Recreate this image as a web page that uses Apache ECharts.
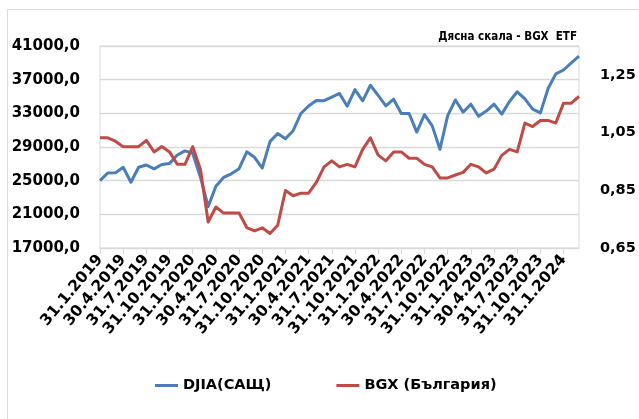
<!DOCTYPE html>
<html>
<head>
<meta charset="utf-8">
<script src="https://cdn.jsdelivr.net/npm/echarts@6/dist/echarts.min.js"></script>
<style>html,body{margin:0;padding:0;background:#fff}#c{width:639px;height:419px}</style>
</head>
<body>
<div id="c"></div>
<script>
const categories = [
 '31.1.2019','28.2.2019','31.3.2019','30.4.2019','31.5.2019','30.6.2019','31.7.2019','31.8.2019','30.9.2019','31.10.2019','30.11.2019','31.12.2019',
 '31.1.2020','29.2.2020','31.3.2020','30.4.2020','31.5.2020','30.6.2020','31.7.2020','31.8.2020','30.9.2020','31.10.2020','30.11.2020','31.12.2020',
 '31.1.2021','28.2.2021','31.3.2021','30.4.2021','31.5.2021','30.6.2021','31.7.2021','31.8.2021','30.9.2021','31.10.2021','30.11.2021','31.12.2021',
 '31.1.2022','28.2.2022','31.3.2022','30.4.2022','31.5.2022','30.6.2022','31.7.2022','31.8.2022','30.9.2022','31.10.2022','30.11.2022','31.12.2022',
 '31.1.2023','28.2.2023','31.3.2023','30.4.2023','31.5.2023','30.6.2023','31.7.2023','31.8.2023','30.9.2023','31.10.2023','30.11.2023','31.12.2023',
 '31.1.2024','29.2.2024','31.3.2024'
];
const djia = [
 24999.7,25916.0,25928.7,26592.9,24815.0,26600.0,26864.3,26403.3,26916.8,27046.2,28051.4,28538.4,
 28256.0,25409.4,21917.2,24345.7,25383.1,25812.9,26428.3,28430.1,27781.7,26501.6,29638.6,30606.5,
 29982.6,30932.4,32981.6,33874.9,34529.5,34502.5,34935.5,35360.7,33843.9,35819.6,34483.7,36338.3,
 35131.9,33892.6,34678.4,32977.2,32990.1,30775.4,32845.1,31510.4,28725.5,32733.0,34589.8,33147.3,
 34086.0,32656.7,33274.2,34098.2,32908.3,34407.6,35559.5,34721.9,33507.5,33052.9,35950.9,37689.5,
 38150.3,38996.4,39807.4
];
const bgx = [
 1.032,1.032,1.020,1.001,1.001,1.001,1.023,0.983,1.002,0.983,0.940,0.940,
 1.001,0.923,0.740,0.792,0.771,0.771,0.771,0.721,0.709,0.720,0.700,0.729,
 0.849,0.831,0.840,0.840,0.877,0.931,0.952,0.931,0.940,0.931,0.992,1.032,
 0.972,0.952,0.983,0.983,0.961,0.961,0.940,0.931,0.893,0.893,0.903,0.912,
 0.940,0.931,0.910,0.923,0.971,0.992,0.983,1.083,1.071,1.092,1.092,1.083,
 1.152,1.152,1.175
];
const seriesNames = ['DJIA(САЩ)', 'BGX (България)'];
const noteText = 'Дясна скала - BGX  ETF';

const FONT = "'DejaVu Sans', sans-serif";
const chart = echarts.init(document.getElementById('c'), null, {renderer: 'canvas'});
chart.setOption({
  animation: false,
  backgroundColor: '#fff',
  graphic: [{
    type: 'rect', silent: true,
    shape: {x: 7.5, y: 9.5, width: 700, height: 500},
    style: {fill: 'none', stroke: '#d9d9d9', lineWidth: 1}
  }],
  title: {
    text: noteText,
    right: 62, top: 31, padding: 0,
    textStyle: {fontFamily: "'DejaVu Sans Condensed', 'Liberation Sans Narrow', 'DejaVu Sans', sans-serif", fontWeight: 'bold', fontSize: 11.5, color: '#000'}
  },
  legend: {
    data: seriesNames,
    left: 150, top: 373,
    itemWidth: 23, itemHeight: 3, itemGap: 65,
    icon: 'rect',
    textStyle: {fontFamily: FONT, fontWeight: 'bold', fontSize: 14.5, color: '#000'}
  },
  grid: {left: 100, right: 60, top: 46, bottom: 171, show: true, borderColor: '#d9d9d9', borderWidth: 1},
  xAxis: {
    type: 'category',
    data: categories,
    boundaryGap: false,
    axisLine: {show: true, lineStyle: {color: '#d9d9d9', width: 1}},
    axisTick: {show: true, interval: 2, length: 6, lineStyle: {color: '#d9d9d9'}},
    axisLabel: {interval: 2, rotate: 50, margin: 9, fontFamily: FONT, fontWeight: 'bold', fontSize: 15.5, color: '#000'},
    splitLine: {show: false}
  },
  yAxis: [{
    type: 'value', min: 17000, max: 41000, interval: 4000,
    axisLine: {show: false}, axisTick: {show: false},
    axisLabel: {margin: 20, fontFamily: FONT, fontWeight: 'bold', fontSize: 15, color: '#000',
      formatter: v => v.toFixed(1).replace('.', ',')},
    splitLine: {show: true, lineStyle: {color: '#d9d9d9', width: 1.3}}
  }, {
    type: 'value', min: 0.65, max: 1.35, interval: 0.2,
    axisLine: {show: false}, axisTick: {show: false},
    axisLabel: {margin: 21, showMaxLabel: false, fontFamily: FONT, fontWeight: 'bold', fontSize: 14.5, color: '#000',
      formatter: v => v.toFixed(2).replace('.', ',')},
    splitLine: {show: false}
  }],
  series: [{
    name: seriesNames[0], type: 'line', yAxisIndex: 0, data: djia,
    symbol: 'none', lineStyle: {color: '#4a7ebb', width: 3, join: 'round'}, itemStyle: {color: '#4a7ebb'}
  }, {
    name: seriesNames[1], type: 'line', yAxisIndex: 1, data: bgx,
    symbol: 'none', lineStyle: {color: '#be4b48', width: 3, join: 'round'}, itemStyle: {color: '#be4b48'}
  }]
});
</script>
</body>
</html>
